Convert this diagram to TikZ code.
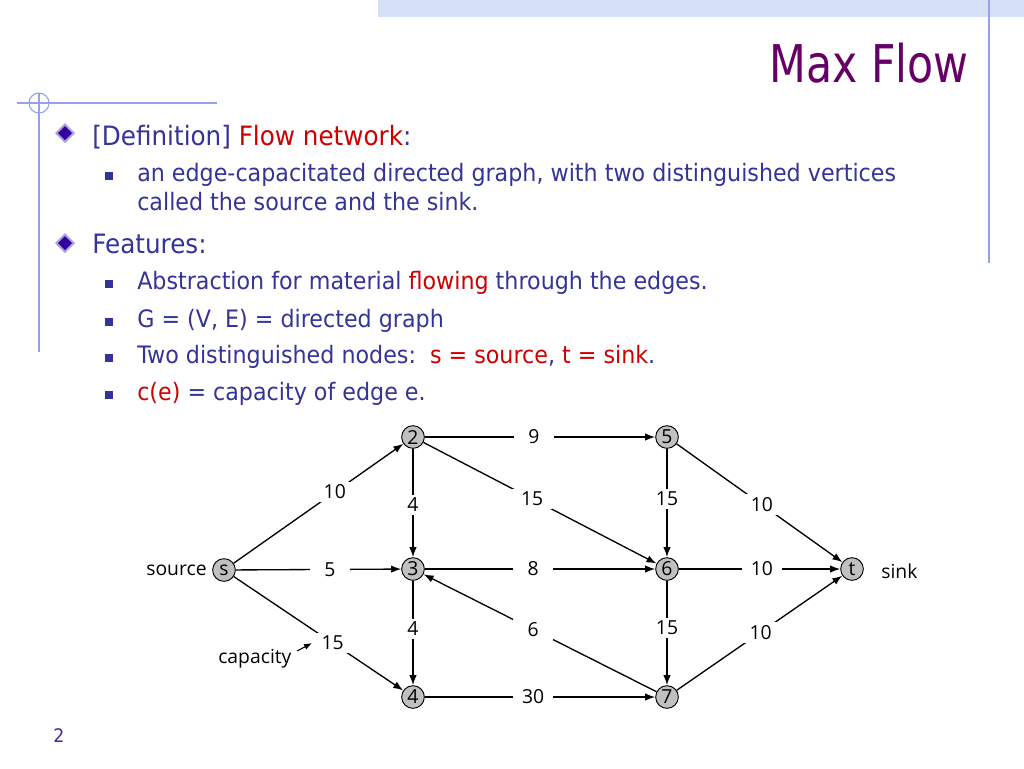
\documentclass[tikz,border=0pt]{standalone}
\usepackage{fontspec}
\setmainfont{DejaVu Sans}
\newfontfamily\titlefont[FakeStretch=0.82]{DejaVu Sans}
\newfontfamily\bodyfont[FakeStretch=0.925]{DejaVu Sans}
\newfontfamily\graphfont{Open Sans}
\usetikzlibrary{arrows.meta}
\definecolor{txtblue}{RGB}{51,51,153}
\definecolor{txtred}{RGB}{204,0,0}
\definecolor{ttlpurple}{RGB}{102,0,102}
\definecolor{decoblue}{RGB}{150,160,235}
\definecolor{bandblue}{RGB}{214,224,246}
\definecolor{dmdark}{RGB}{51,0,153}
\definecolor{dmlight}{RGB}{170,160,220}
\definecolor{nodegray}{RGB}{192,192,192}
\begin{document}
\begin{tikzpicture}[x=0.75pt,y=-0.75pt,
  vtx/.style={circle,draw=black,fill=nodegray,line width=0.7pt,minimum size=17pt,inner sep=0pt,font=\graphfont\fontsize{14.5}{14.5}\selectfont},
  lab/.style={fill=white,minimum width=30pt,minimum height=15.5pt,inner sep=0pt,font=\graphfont\fontsize{14.5}{14.5}\selectfont},
  gtext/.style={inner sep=0pt,font=\graphfont\fontsize{14.5}{14.5}\selectfont},
  edge/.style={line width=1pt,-{Latex[length=7.5pt,width=5.5pt]}},
  main/.style={anchor=base west,inner sep=0pt,text=txtblue,font=\bodyfont\fontsize{20}{24}\selectfont},
  sub/.style={anchor=base west,inner sep=0pt,text=txtblue,font=\bodyfont\fontsize{18}{22}\selectfont},
  sqb/.style={fill=txtblue,minimum size=6pt,inner sep=0pt},
  deco/.style={decoblue,line width=0.8pt},
]
\useasboundingbox (0,0) rectangle (1024,768);
\fill[white] (0,0) rectangle (1024,768);
% decorations
\fill[bandblue] (378,0) rectangle (1024,17);
\draw[deco] (989,0) -- (989,263);
\draw[deco] (17,103) -- (217,103);
\draw[deco] (39,93) -- (39,352);
\draw[deco] (39,103) circle[radius=10];
% title
\node[anchor=base east,inner sep=0pt,text=ttlpurple,font=\titlefont\fontsize{39}{40}\selectfont] (title) at (969,82) {Max Flow};
% diamonds
\fill[dmlight] (65,123) -- (75,133) -- (65,143) -- (55,133) -- cycle;
\fill[dmdark] (65,126) -- (72,133) -- (65,140) -- (58,133) -- cycle;
\fill[dmlight] (65,233) -- (75,243) -- (65,253) -- (55,243) -- cycle;
\fill[dmdark] (65,236) -- (72,243) -- (65,250) -- (58,243) -- cycle;
% text
\node[main] (t1) at (92,145) {[Definition] \textcolor{txtred}{Flow network}:};
\node[sub] (t2) at (137,181) {an edge-capacitated directed graph, with two distinguished vertices};
\node[sub] (t3) at (137,210) {called the source and the sink.};
\node[main] (t4) at (92,253) {Features:};
\node[sub] (t5) at (137,289) {Abstraction for material \textcolor{txtred}{flowing} through the edges.};
\node[sub] (t6) at (137,327) {G = (V, E) = directed graph};
\node[sub] (t7) at (137,363) {Two distinguished nodes:\ \ \textcolor{txtred}{s = source}, \textcolor{txtred}{t = sink}.};
\node[sub] (t8) at (137,400) {\textcolor{txtred}{c(e)} = capacity of edge e.};
\node[sqb] (b1) at (109,176) {};
\node[sqb] (b2) at (109,284) {};
\node[sqb] (b3) at (109,322) {};
\node[sqb] (b4) at (109,358) {};
\node[sqb] (b5) at (109,395) {};
\node[anchor=base west,inner sep=0pt,text=txtblue,font=\bodyfont\fontsize{14}{14}\selectfont] (pg) at (53,742) {2};
% graph
\node[vtx] (s) at (224,570) {s};
\node[vtx] (n2) at (413,437) {2};
\node[vtx] (n3) at (413,569) {3};
\node[vtx] (n4) at (413,697) {4};
\node[vtx] (n5) at (667,437) {5};
\node[vtx] (n6) at (667,569) {6};
\node[vtx] (n7) at (667,697) {7};
\node[vtx] (t) at (852,569) {t};
\draw[edge] (s) -- node[lab,pos=0.596]{10} (n2);
\draw[edge] (s) -- node[lab,pos=0.569]{5} (n3);
\draw[edge] (s) -- node[lab,pos=0.584] (l3) {15} (n4);
\draw[edge] (n2) -- node[lab,pos=0.518]{4} (n3);
\draw[edge] (n3) -- node[lab,pos=0.462]{4} (n4);
\draw[edge] (n2) -- node[lab,pos=0.474]{9} (n5);
\draw[edge] (n2) -- node[lab,pos=0.466]{15} (n6);
\draw[edge] (n3) -- node[lab,pos=0.47]{8} (n6);
\draw[edge] (n7) -- node[lab,pos=0.529]{6} (n3);
\draw[edge] (n4) -- node[lab,pos=0.47]{30} (n7);
\draw[edge] (n5) -- node[lab,pos=0.464]{15} (n6);
\draw[edge] (n6) -- node[lab,pos=0.453]{15} (n7);
\draw[edge] (n5) -- node[lab,pos=0.514]{10} (t);
\draw[edge] (n6) -- node[lab,pos=0.515]{10} (t);
\draw[edge] (n7) -- node[lab,pos=0.507]{10} (t);
\node[gtext,anchor=east] (src) at ([xshift=-4pt]s.west) {source};
\node[gtext,anchor=base west] (snk) at (881,578) {sink};
\node[gtext,anchor=base west] (cap) at (218,663) {capacity};
\coordinate (capfrom) at (297,651);
\draw[line width=0.8pt,-{Latex[length=6pt,width=4.5pt]}] (capfrom) -- (l3.west);
\end{tikzpicture}
\end{document}
